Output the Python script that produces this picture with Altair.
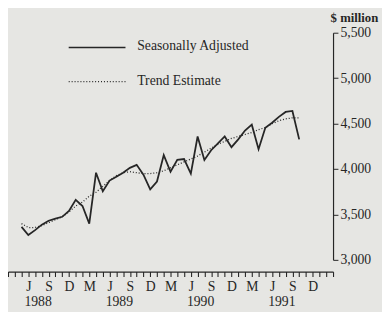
import altair as alt
import pandas as pd

# ---- data ----
months = list(pd.date_range("1988-05-01", "1991-10-01", freq="MS").strftime("%Y-%m"))
seasonally_adjusted = [3363, 3273, 3327, 3388, 3431, 3453, 3474, 3539, 3661, 3593, 3399, 3959,
                       3755, 3873, 3916, 3959, 4013, 4046, 3938, 3776, 3862, 4153, 3970, 4100,
                       4110, 3949, 4358, 4100, 4207, 4283, 4358, 4240, 4326, 4423, 4488, 4218,
                       4455, 4509, 4574, 4628, 4639, 4326]
trend_estimate = [3399, 3356, 3356, 3377, 3410, 3442, 3474, 3528, 3593, 3636, 3701, 3744,
                  3809, 3873, 3927, 3959, 3970, 3959, 3949, 3949, 3959, 3981, 4013, 4046,
                  4078, 4110, 4143, 4186, 4229, 4272, 4304, 4337, 4358, 4380, 4401, 4434,
                  4455, 4498, 4531, 4552, 4563, 4563]
years = ["1988", "1989", "1990", "1991"]
year_months = ["1988-06", "1989-06", "1990-06", "1991-06"]
y_ticks = [3000, 3500, 4000, 4500, 5000, 5500]
axis_start, axis_end = "1988-03", "1992-03"


def month_num(s):
    y, m = s.split("-")
    return (int(y) - 1988) * 12 + int(m) - 1


df = pd.DataFrame({
    "month": months,
    "t": [month_num(m) for m in months],
    "sa": seasonally_adjusted,
    "trend": trend_estimate,
})
df_years = pd.DataFrame({"t": [month_num(m) for m in year_months], "year": years})

t0, t1 = month_num(axis_start), month_num(axis_end)
FONT = "Liberation Serif"
INK = "#262626"

x_scale = alt.Scale(domain=[t0, t1], nice=False, zero=False)
y_scale = alt.Scale(domain=[3000, 5500], nice=False, zero=False)

label_expr = (
    "datum.value >= 5 && datum.value <= 47 ? "
    "(datum.value % 12 == 2 ? 'M' : datum.value % 12 == 5 ? 'J' : "
    "datum.value % 12 == 8 ? 'S' : datum.value % 12 == 11 ? 'D' : '') : ''"
)

x_axis = alt.Axis(
    values=list(range(t0, t1 + 1)), labelExpr=label_expr, labelOverlap=False,
    labelFlush=False, offset=12, tickSize=5, domainColor=INK, tickColor=INK,
    labelFont=FONT, labelFontSize=14, labelColor=INK, labelPadding=3,
    grid=False, title=None, domainWidth=1.2, tickWidth=1.1,
)
y_axis = alt.Axis(
    orient="right", values=y_ticks, labelExpr="format(datum.value, ',')",
    labelOverlap=False, tickSize=5, grid=False,
    domainColor=INK, tickColor=INK, labelFont=FONT, labelFontSize=14,
    labelColor=INK, labelPadding=2, domainWidth=1.2,
    title="$ million", titleAngle=0, titleX=-3, titleY=-15, titleAlign="left",
    titleBaseline="middle", titleFont=FONT, titleFontSize=13, titleFontWeight="bold",
    titleColor=INK,
)

base = alt.Chart(df)
sa_line = base.mark_line(color=INK, strokeWidth=1.8).encode(
    x=alt.X("t:Q", scale=x_scale, axis=x_axis),
    y=alt.Y("sa:Q", scale=y_scale, axis=y_axis),
)
trend_line = base.mark_line(color=INK, strokeWidth=1.3, strokeDash=[1, 2]).encode(
    x=alt.X("t:Q", scale=x_scale, axis=x_axis),
    y=alt.Y("trend:Q", scale=y_scale, axis=y_axis),
)

year_text = alt.Chart(df_years).mark_text(
    align="left", baseline="middle", dx=-4, font=FONT, fontSize=14, color=INK
).encode(x=alt.X("t:Q", scale=x_scale, axis=x_axis), y=alt.value(275), text="year:N")

leg = alt.Chart(pd.DataFrame({"label": ["Seasonally Adjusted"]}))
leg2 = alt.Chart(pd.DataFrame({"label": ["Trend Estimate"]}))
leg_sa_line = leg.mark_rule(color=INK, strokeWidth=1.5).encode(
    x=alt.value(62), x2=alt.value(120), y=alt.value(15))
leg_sa_text = leg.mark_text(align="left", baseline="middle", font=FONT, fontSize=14,
                            color=INK).encode(x=alt.value(132), y=alt.value(14), text="label:N")
leg_tr_line = leg2.mark_rule(color=INK, strokeWidth=1.3, strokeDash=[1, 2]).encode(
    x=alt.value(62), x2=alt.value(120), y=alt.value(50))
leg_tr_text = leg2.mark_text(align="left", baseline="middle", font=FONT, fontSize=14,
                             color=INK).encode(x=alt.value(132), y=alt.value(49), text="label:N")

chart = alt.layer(
    trend_line, sa_line, year_text, leg_sa_line, leg_sa_text, leg_tr_line, leg_tr_text
).properties(
    width=332, height=232,
    autosize=alt.AutoSizeParams(type="none"),
    padding={"left": 0, "top": 22, "right": 50, "bottom": 50},
    background="#e6e6e3",
).configure_view(stroke=None)

chart.save("out.html", embed_options={"renderer": "svg", "actions": False})
